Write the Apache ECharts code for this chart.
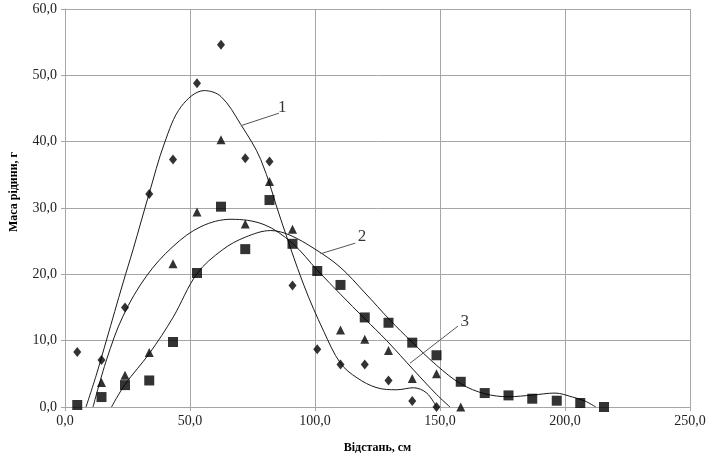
<!DOCTYPE html>
<html>
<head>
<meta charset="utf-8">
<script src="https://cdn.jsdelivr.net/npm/echarts@6/dist/echarts.min.js"></script>
<style>
    html, body { margin: 0; padding: 0; background: #fff; }
    #chart { width: 709px; height: 462px; }
</style>
</head>
<body>
<div id="chart"></div>
<script>
// відстань, см
var distance = [4.9, 14.6, 24.0, 33.7, 43.2, 52.8, 62.4, 72.1, 81.8, 91.0, 100.9, 110.2,
    119.9, 129.4, 138.9, 148.6, 158.3, 167.9, 177.4, 186.9, 196.7, 206.1, 215.6];
// маса рідини, г (ромби, трикутники, квадрати)
var mass1 = [8.3, 7.1, 15.0, 32.1, 37.3, 48.8, 54.6, 37.5, 37.0, 18.3, 8.7, 6.4,
    6.4, 4.0, 0.9, 0.0, null, null, null, null, null, null, null];
var mass2 = [null, 3.7, 4.8, 8.2, 21.6, 29.4, 40.3, 27.6, 34.0, 26.8, null, 11.6,
    10.2, 8.5, 4.3, 5.0, 0.0, null, null, null, null, null, null];
var mass3 = [0.3, 1.5, 3.3, 4.0, 9.8, 20.2, 30.2, 23.8, 31.2, 24.6, 20.5, 18.4,
    13.5, 12.7, 9.7, 7.8, 3.8, 2.1, 1.75, 1.25, 0.95, 0.6, 0.0];

// лінії тренду
var trend1 = [[8.4, 0], [12.5, 4.8], [16.6, 10.1], [23.2, 18.7], [27.2, 23.7], [33.6, 32.1],
    [39.8, 39.8], [46.5, 45.3], [55.7, 47.7], [62.4, 46.8], [70.3, 42.6], [78.3, 37.3],
    [86.3, 28.3], [95.5, 18.4], [103.5, 11.4], [110.2, 6.6], [116.8, 4.4], [124.8, 2.9],
    [132.7, 2.6], [139.4, 2.9], [144.7, 2.1], [148.6, 0]];
var trend2 = [[11.2, 0], [16.6, 7.1], [23.2, 13.7], [32.5, 19.7], [43.2, 24.2], [54.4, 27.2],
    [66.4, 28.3], [79.6, 27.5], [90.9, 24.7], [101.0, 20.6], [110.2, 17.0], [119.9, 13.3],
    [128.7, 10.0], [139.4, 5.6], [148.6, 1.9], [154.0, 0]];
var trend3 = [[18.6, 0], [24.0, 3.4], [33.8, 8.1], [43.2, 13.5], [52.8, 20.1], [63.0, 23.7],
    [72.1, 25.6], [82.3, 26.6], [90.0, 25.9], [100.0, 23.8], [110.0, 21.1], [120.0, 17.2],
    [130.0, 13.1], [138.5, 9.9], [148.6, 6.3], [158.3, 3.5], [167.9, 2.0], [177.4, 1.55],
    [187.0, 1.8], [196.0, 2.1], [203.0, 1.5], [208.0, 0.9], [212.3, 0]];

// номери кривих і виносні лінії
var labelNames = ['1', '2', '3'];
var labelPos = [[86.9, 45.2], [118.8, 25.7], [159.9, 12.9]];
var leaderFrom = [[85.6, 44.3], [116.1, 24.7], [157.2, 12.2]];
var leaderTo = [[70.3, 42.4], [102.2, 23.1], [138.0, 6.6]];

function pairs(xs, ys) {
    var out = [];
    for (var i = 0; i < xs.length; i++) {
        if (ys[i] !== null) out.push([xs[i], ys[i]]);
    }
    return out;
}

function fmt(v) {
    return v.toFixed(1).replace('.', ',');
}

var serif = 'Liberation Serif';
var gridColor = '#a6a6a6';

var chart = echarts.init(document.getElementById('chart'));

var series = [];
[trend1, trend2, trend3].forEach(function (t) {
    series.push({
        type: 'line',
        data: t,
        smooth: 0.35,
        showSymbol: false,
        silent: true,
        lineStyle: { color: '#1a1a1a', width: 1 },
        z: 2
    });
});
for (var k = 0; k < leaderFrom.length; k++) {
    series.push({
        type: 'line',
        data: [leaderFrom[k], leaderTo[k]],
        showSymbol: false,
        silent: true,
        lineStyle: { color: '#555', width: 1 },
        z: 2
    });
}
series.push({
    type: 'scatter', symbol: 'diamond', symbolSize: [8, 10],
    itemStyle: { color: '#000' }, data: pairs(distance, mass1), z: 3
});
series.push({
    type: 'scatter', symbol: 'triangle', symbolSize: [9, 9],
    itemStyle: { color: '#000' }, data: pairs(distance, mass2), z: 3
});
series.push({
    type: 'scatter', symbol: 'rect', symbolSize: [10, 10],
    itemStyle: { color: '#000' }, data: pairs(distance, mass3), z: 4
});
series.push({
    type: 'scatter',
    symbolSize: 0,
    silent: true,
    data: labelPos.map(function (p, i) { return { name: labelNames[i], value: p }; }),
    label: {
        show: true,
        position: 'inside',
        formatter: '{b}',
        fontFamily: serif,
        fontSize: 17,
        color: '#000'
    }
});

var option = {
    animation: false,
    backgroundColor: '#fff',
    grid: { left: 63, right: 19, top: 9, bottom: 55 },
    xAxis: {
        type: 'value',
        min: 0, max: 250, interval: 50,
        name: 'Відстань, см',
        nameLocation: 'middle',
        nameGap: 35,
        nameTextStyle: { fontFamily: serif, fontSize: 12, fontWeight: 'bold', color: '#000' },
        axisLine: { lineStyle: { color: gridColor } },
        axisTick: { show: true, length: 4, lineStyle: { color: gridColor } },
        axisLabel: { formatter: fmt, fontFamily: serif, fontSize: 14, color: '#222', margin: 7 },
        splitLine: { lineStyle: { color: gridColor } }
    },
    yAxis: {
        type: 'value',
        min: 0, max: 60, interval: 10,
        name: 'Маса рідини, г',
        nameLocation: 'middle',
        nameGap: 45,
        nameTextStyle: { fontFamily: serif, fontSize: 12, fontWeight: 'bold', color: '#000', padding: [0, 0, 0, 32] },
        axisLine: { show: true, lineStyle: { color: gridColor } },
        axisTick: { show: true, length: 4, lineStyle: { color: gridColor } },
        axisLabel: { formatter: fmt, fontFamily: serif, fontSize: 14, color: '#222', margin: 8 },
        splitLine: { lineStyle: { color: gridColor } }
    },
    series: series
};

chart.setOption(option);
</script>
</body>
</html>
